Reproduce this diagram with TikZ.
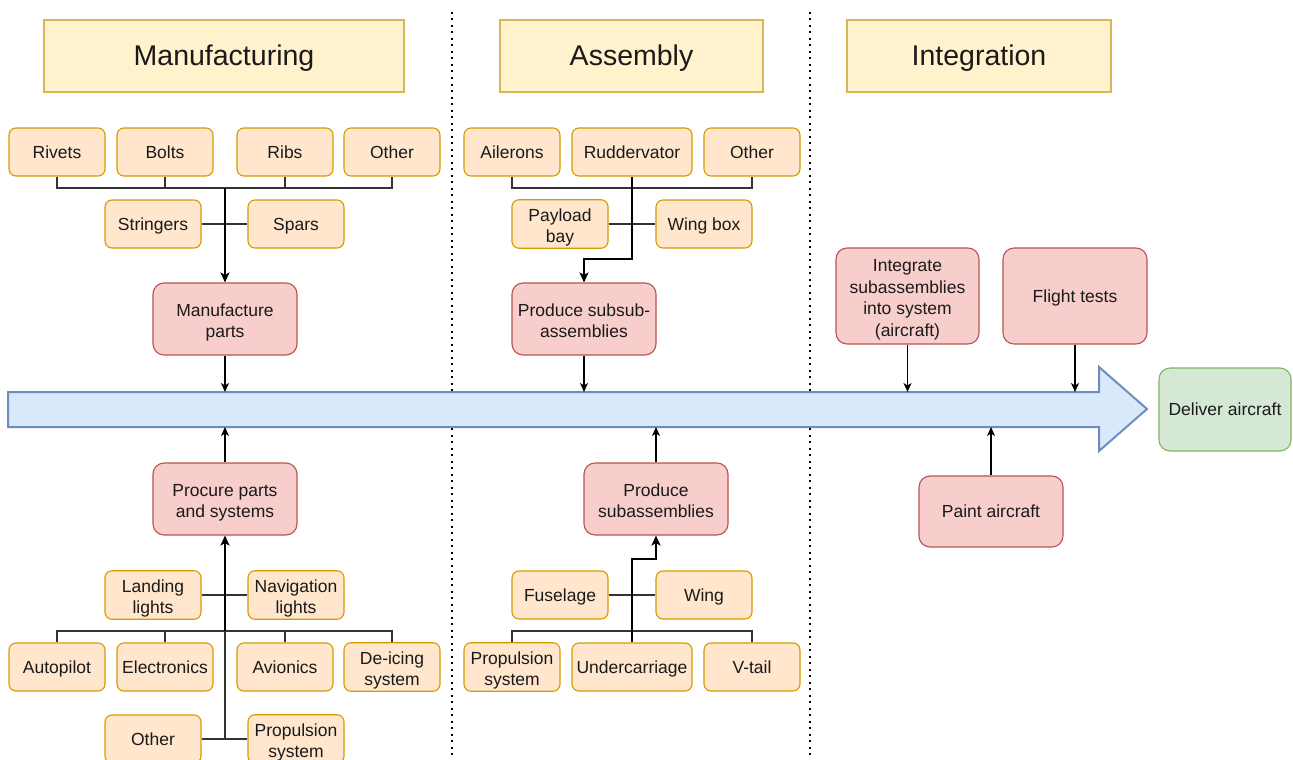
\documentclass[tikz,border=0pt]{standalone}
\usepackage{fontspec}
\setmainfont{Liberation Sans}
\usetikzlibrary{arrows.meta,calc}
\definecolor{orfill}{HTML}{FFE6CC}
\definecolor{ordraw}{HTML}{D79B00}
\definecolor{rdfill}{HTML}{F8CECC}
\definecolor{rddraw}{HTML}{B85450}
\definecolor{gnfill}{HTML}{D5E8D4}
\definecolor{gndraw}{HTML}{82B366}
\definecolor{blfill}{HTML}{DAE8FC}
\definecolor{bldraw}{HTML}{6C8EBF}
\definecolor{yefill}{HTML}{FFF2CC}
\definecolor{yedraw}{HTML}{D6B656}
\definecolor{txt}{HTML}{1A1A1A}
% line box struts: ascent and descent of the font, so text centres on its line box;
% for stacked text the leading strut spans every line above the last baseline
\tikzset{extra top/.initial=0pt}
\newcommand\firststrut{\rule[-0.212em]{0pt}{\dimexpr1.117em+\pgfkeysvalueof{/tikz/extra top}\relax}}
\newcommand\laststrut{\rule[-0.212em]{0pt}{1.117em}}
\begin{document}
\begin{tikzpicture}[x=1pt,y=-1pt,
  every node/.style={text=txt, align=center, inner sep=2pt,
    execute at begin node=\firststrut, execute at end node=\laststrut},
  two lines/.style={extra top=25pt},
  four lines/.style={extra top=68pt},
  boxfont/.style={font=\fontsize{17.5}{21.5}\selectfont},
  obox/.style={boxfont, fill=orfill, draw=ordraw, line width=1.1pt,
    rounded corners=7pt, minimum width=96pt, minimum height=48pt},
  wbox/.style={obox, minimum width=120pt},
  rbox/.style={boxfont, draw=rddraw, fill=rdfill, line width=1.1pt,
    rounded corners=11pt, minimum width=144pt, minimum height=72pt},
  gbox/.style={boxfont, draw=gndraw, fill=gnfill, line width=1.1pt,
    rounded corners=11pt},
  hdr/.style={draw=yedraw, fill=yefill, line width=1.1pt,
    font=\fontsize{28.5}{34}\selectfont, minimum height=72pt},
  bus/.style={draw=black!80, line width=1.3pt},
  boldarrow/.style={draw=black, line width=2.2pt,
    -{Stealth[length=10pt,width=9pt,inset=2.5pt]}},
  arr/.style={draw=black, line width=1.3pt,
    -{Stealth[length=9pt,width=8pt,inset=2.5pt]}},
  sep/.style={draw=black, line width=2pt, dash pattern=on 2pt off 4.5pt},
  bigarrow/.style={draw=bldraw, fill=blfill, line width=2pt, line join=miter}
]
\clip (0,0) rectangle (1293,760);
\fill[white] (0,0) rectangle (1293,760);

% phase separators
\draw[sep] (452,12) -- (452,760);
\draw[sep] (810,12) -- (810,760);

% phase headers
\node[hdr, minimum width=360pt] (hman) at (224,56) {Manufacturing};
\node[hdr, minimum width=263pt] (hasm) at (631.5,56) {Assembly};
\node[hdr, minimum width=264pt] (hint) at (979,56) {Integration};

% main timeline arrow
\path[bigarrow] (8,392) -- (1099,392) -- (1099,367) -- (1147,409)
  -- (1099,451) -- (1099,427) -- (8,427) -- cycle;
\coordinate (atop) at (0,392);
\coordinate (abot) at (0,427);

% ---------- Manufacturing, upper branch ----------
\node[obox] (rivets) at (57,152) {Rivets};
\node[obox] (bolts) at (165,152) {Bolts};
\node[obox] (ribs) at (285,152) {Ribs};
\node[obox] (mother) at (392,152) {Other};
\node[obox] (stringers) at (153,224) {Stringers};
\node[obox] (spars) at (296,224) {Spars};
\node[rbox, two lines] (manuf) at (225,319) {Manufacture\\parts};
\coordinate (mbus) at (225,188);
\draw[bus] (rivets.south) -- (rivets.south |- mbus) -- (mother.south |- mbus) -- (mother.south);
\draw[bus] (bolts.south) -- (bolts.south |- mbus);
\draw[bus] (ribs.south) -- (ribs.south |- mbus);
\draw[bus] (stringers.east) -- (spars.west);
\draw[boldarrow] (mbus) -- (manuf.north);
\draw[arr] (manuf.south) -- (manuf.south |- atop);

% ---------- Manufacturing, lower branch ----------
\node[rbox, two lines] (procure) at (225,499) {Procure parts\\and systems};
\node[obox, two lines] (landing) at (153,595) {Landing\\lights};
\node[obox, two lines] (navig) at (296,595) {Navigation\\lights};
\node[obox] (autopilot) at (57,667) {Autopilot};
\node[obox] (electronics) at (165,667) {Electronics};
\node[obox] (avionics) at (285,667) {Avionics};
\node[obox, two lines] (deicing) at (392,667) {De-icing\\system};
\node[obox] (mother2) at (153,739) {Other};
\node[obox, two lines] (propsys) at (296,739) {Propulsion\\system};
\coordinate (lbus) at (225,631);
\coordinate (lmid) at (225,739);
\draw[bus] (autopilot.north) -- (autopilot.north |- lbus) -- (deicing.north |- lbus) -- (deicing.north);
\draw[bus] (electronics.north) -- (electronics.north |- lbus);
\draw[bus] (avionics.north) -- (avionics.north |- lbus);
\draw[bus] (landing.east) -- (navig.west);
\draw[bus] (mother2.east) -- (propsys.west);
\draw[bus] (lmid) -- (lbus);
\draw[boldarrow] (lbus) -- (procure.south);
\draw[arr] (procure.north) -- (procure.north |- abot);

% ---------- Assembly, upper branch ----------
\node[obox] (ailerons) at (512,152) {Ailerons};
\node[wbox] (rudder) at (632,152) {Ruddervator};
\node[obox] (aother) at (752,152) {Other};
\node[obox, two lines] (payload) at (560,224) {Payload\\bay};
\node[obox] (wingbox) at (704,224) {Wing box};
\node[rbox, two lines] (subsub) at (584,319) {Produce subsub-\\assemblies};
\coordinate (abus) at (632,188);
\coordinate (abend) at (632,259);
\draw[bus] (ailerons.south) -- (ailerons.south |- abus) -- (aother.south |- abus) -- (aother.south);
\draw[bus] (payload.east) -- (wingbox.west);
\draw[boldarrow] (rudder.south) -- (abend) -| (subsub.north);
\draw[arr] (subsub.south) -- (subsub.south |- atop);

% ---------- Assembly, lower branch ----------
\node[rbox, two lines] (subasm) at (656,499) {Produce\\subassemblies};
\node[obox] (fuselage) at (560,595) {Fuselage};
\node[obox] (wing) at (704,595) {Wing};
\node[obox, two lines] (propasm) at (512,667) {Propulsion\\system};
\node[wbox] (under) at (632,667) {Undercarriage};
\node[obox] (vtail) at (752,667) {V-tail};
\coordinate (bbus) at (632,631);
\coordinate (bbend) at (632,559);
\draw[bus] (propasm.north) -- (propasm.north |- bbus) -- (vtail.north |- bbus) -- (vtail.north);
\draw[bus] (fuselage.east) -- (wing.west);
\draw[boldarrow] (under.north) -- (bbend) -| (subasm.south);
\draw[arr] (subasm.north) -- (subasm.north |- abot);

% ---------- Integration ----------
\node[rbox, four lines, minimum width=143pt, minimum height=96pt] (integ) at (907.5,296)
  {Integrate\\subassemblies\\into system\\(aircraft)};
\node[rbox, minimum height=96pt] (flight) at (1075,296) {Flight tests};
\node[rbox, minimum height=71pt] (paint) at (991,511.5) {Paint aircraft};
\node[gbox, minimum width=132pt, minimum height=83pt] (deliver) at (1225,409.5) {Deliver aircraft};
\draw[arr] (integ.south) -- (integ.south |- atop);
\draw[arr] (flight.south) -- (flight.south |- atop);
\draw[arr] (paint.north) -- (paint.north |- abot);
\end{tikzpicture}
\end{document}
